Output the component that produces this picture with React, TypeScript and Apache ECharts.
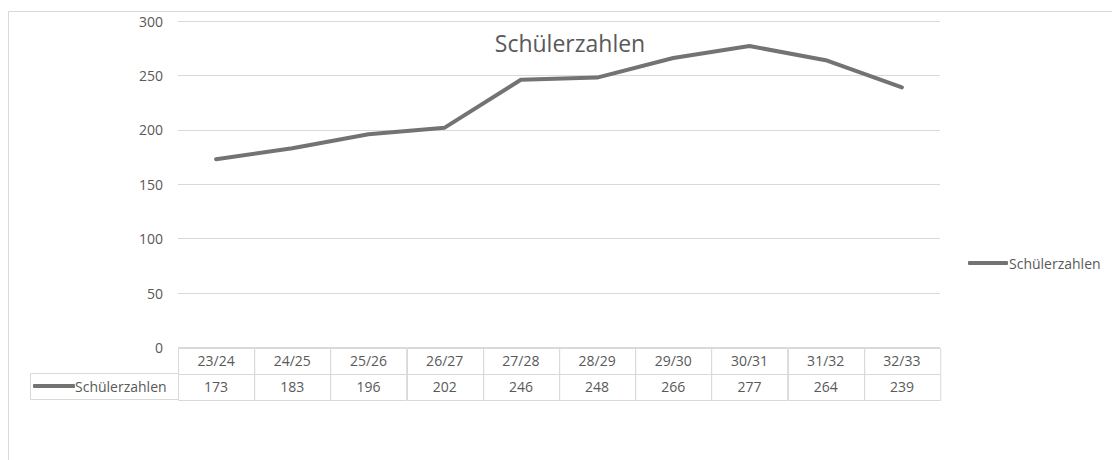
import React, { useEffect, useRef } from "react";
import * as echarts from "echarts";

const categories = ["23/24", "24/25", "25/26", "26/27", "27/28", "28/29", "29/30", "30/31", "31/32", "32/33"];
const values = [173, 183, 196, 202, 246, 248, 266, 277, 264, 239];
const seriesName = "Schülerzahlen";
const titleText = "Schülerzahlen";
const yMin = 0;
const yMax = 300;
const yInterval = 50;

const FONT = "'Open Sans', sans-serif";
const TEXT = "#595959";
const GRID = "#d9d9d9";
const LINE = "#737373";

export default function App() {
  const ref = useRef<HTMLDivElement>(null);
  useEffect(() => {
    if (!ref.current) return;
    const chart = echarts.init(ref.current, undefined, { renderer: "svg" });
    const tableData: any[] = [];
    categories.forEach((c, i) => tableData.push([i, 0]));
    values.forEach((v, i) => tableData.push([i, 1]));
    const tableText = (idx: number) =>
      idx < categories.length ? categories[idx] : String(values[idx - categories.length]);

    chart.setOption({
      animation: false,
      textStyle: { fontFamily: FONT, color: TEXT },
      title: {
        text: titleText,
        left: 565,
        top: 26,
        textAlign: "center",
        textStyle: { fontFamily: FONT, fontSize: 23, fontWeight: "normal", color: TEXT },
      },
      legend: [
        {
          data: [seriesName],
          left: 968,
          top: 256,
          padding: 0,
          icon: "roundRect",
          itemWidth: 40,
          itemHeight: 4,
          textStyle: { fontFamily: FONT, fontSize: 14, color: TEXT, padding: [0, 0, 0, -4] },
          selectedMode: false,
        },
        {
          data: [seriesName],
          left: 33,
          top: 379,
          padding: 0,
          icon: "roundRect",
          itemWidth: 42,
          itemHeight: 4,
          textStyle: { fontFamily: FONT, fontSize: 14, color: TEXT, padding: [0, 0, 0, -5] },
          selectedMode: false,
        },
      ],
      graphic: [
        {
          type: "rect",
          shape: { x: 8.5, y: 11.5, width: 2000, height: 2000 },
          style: { fill: "none", stroke: GRID, lineWidth: 1 },
          silent: true,
        },
        {
          type: "rect",
          shape: { x: 30.5, y: 373.5, width: 148, height: 26 },
          style: { fill: "none", stroke: GRID, lineWidth: 1 },
          silent: true,
        },
      ],
      grid: [
        { left: 178, right: 172, top: 21, bottom: 112.5, containLabel: false },
        { left: 178, right: 172, top: 347.5, height: 52, containLabel: false },
      ],
      xAxis: [
        {
          gridIndex: 0,
          type: "category",
          data: categories,
          boundaryGap: true,
          axisLine: { show: false },
          axisTick: { show: false },
          axisLabel: { show: false },
        },
        {
          gridIndex: 1,
          type: "category",
          data: categories,
          boundaryGap: true,
          axisLine: { show: false },
          axisTick: { show: false },
          axisLabel: { show: false },
        },
      ],
      yAxis: [
        {
          gridIndex: 0,
          type: "value",
          min: yMin,
          max: yMax,
          interval: yInterval,
          axisLine: { show: false },
          axisTick: { show: false },
          axisLabel: { fontFamily: FONT, fontSize: 14, color: TEXT, margin: 15 },
          splitLine: { lineStyle: { color: GRID, width: 1 } },
        },
        {
          gridIndex: 1,
          type: "category",
          data: ["head", "values"],
          inverse: true,
          axisLine: { show: false },
          axisTick: { show: false },
          axisLabel: { show: false },
        },
      ],
      series: [
        {
          name: seriesName,
          type: "line",
          xAxisIndex: 0,
          yAxisIndex: 0,
          data: values,
          symbol: "none",
          lineStyle: { color: LINE, width: 4, cap: "round", join: "round" },
          itemStyle: { color: LINE },
        },
        {
          type: "custom",
          xAxisIndex: 1,
          yAxisIndex: 1,
          data: tableData,
          silent: true,
          renderItem: (params: any, api: any) => {
            const p = api.coord([api.value(0), api.value(1)]);
            const s = api.size([1, 1]);
            const x = Math.round(p[0] - s[0] / 2) + 0.5;
            const y = Math.round(p[1] - s[1] / 2) + 0.5;
            return {
              type: "group",
              children: [
                {
                  type: "rect",
                  shape: { x, y, width: s[0], height: s[1] },
                  style: { fill: "none", stroke: GRID, lineWidth: 1 },
                },
                {
                  type: "text",
                  x: p[0],
                  y: p[1],
                  style: {
                    text: tableText(params.dataIndex),
                    align: "center",
                    verticalAlign: "middle",
                    fontFamily: FONT,
                    fontSize: 14,
                    fill: TEXT,
                  },
                },
              ],
            };
          },
        },
      ],
    });
    return () => chart.dispose();
  }, []);
  return (
    <div
      ref={ref}
      style={{ position: "absolute", left: 0, top: 0, width: 1112, height: 460, background: "#fff" }}
    />
  );
}
